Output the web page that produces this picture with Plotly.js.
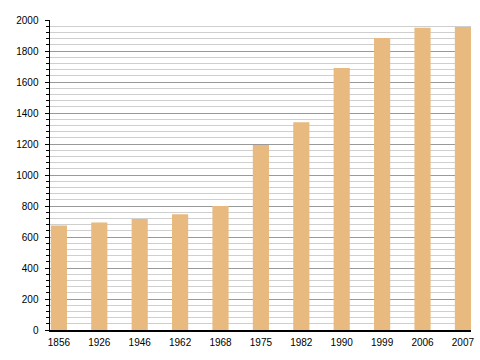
<!DOCTYPE html>
<html>
<head>
<meta charset="utf-8">
<script src="https://cdn.plot.ly/plotly-3.0.1.min.js"></script>
<style>html,body{margin:0;padding:0;background:#fff;}#chart{width:480px;height:360px;}</style>
</head>
<body>
<div id="chart"></div>
<script>
var years = ["1856","1926","1946","1962","1968","1975","1982","1990","1999","2006","2007"];
var population = [675, 694, 716, 747, 800, 1194, 1340, 1690, 1884, 1950, 1955];

var trace = {
  type: "bar",
  x: years,
  y: population,
  width: 0.4,
  marker: {color: "#E8BA7F", line: {width: 0}},
  hoverinfo: "x+y"
};

var layout = {
  width: 480, height: 360,
  margin: {l: 50, r: 9, t: 20, b: 30, pad: 0},
  paper_bgcolor: "#ffffff",
  plot_bgcolor: "#ffffff",
  font: {family: "Liberation Sans, Arial, sans-serif", size: 10, color: "#000"},
  showlegend: false,
  xaxis: {
    type: "category",
    range: [-0.22, 10.2],
    showgrid: false,
    zeroline: false,
    showline: true, linecolor: "#000", linewidth: 1.5,
    ticks: "",
    ticklabelstandoff: 2,
    tickfont: {size: 10, color: "#000"}
  },
  yaxis: {
    range: [0, 2000],
    dtick: 200, tick0: 0,
    ticks: "outside", ticklen: 4, tickwidth: 1, tickcolor: "#000",
    showline: true, linecolor: "#000", linewidth: 1.5,
    showgrid: true, gridcolor: "#999999", gridwidth: 1,
    zeroline: false,
    ticklabelstandoff: 4,
    tickfont: {size: 10, color: "#000"},
    minor: {dtick: 40, tick0: 0, ticks: "outside", ticklen: 2.5, tickcolor: "#000", showgrid: true, gridcolor: "#cfcfcf", gridwidth: 1}
  },
  bargap: 0.6
};

Plotly.newPlot("chart", [trace], layout, {displayModeBar: false, staticPlot: true});
</script>
</body>
</html>
